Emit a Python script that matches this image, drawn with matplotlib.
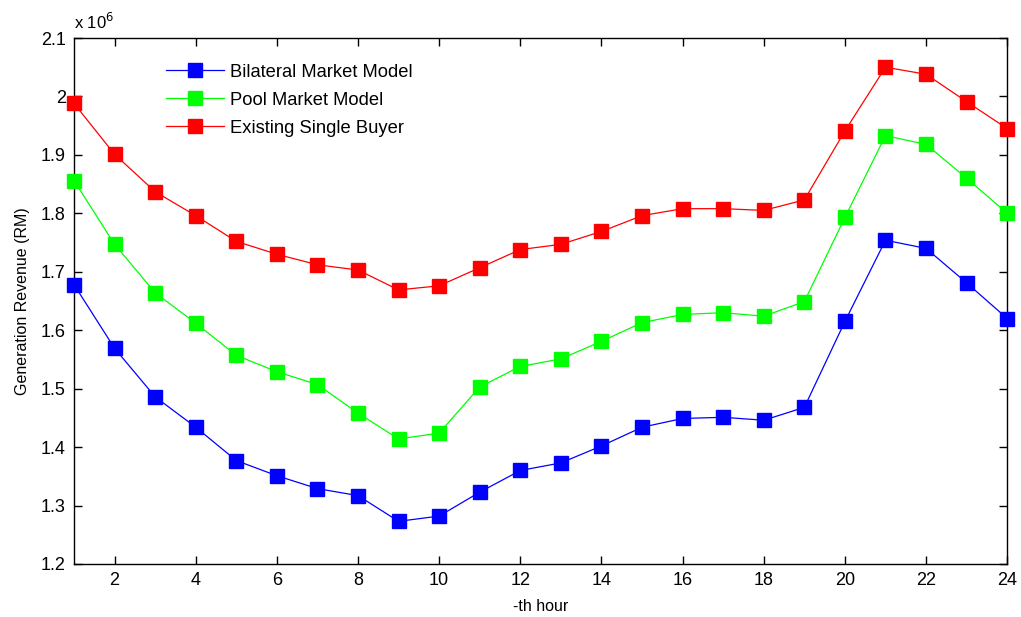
import matplotlib
matplotlib.use("Agg")
import matplotlib.pyplot as plt
from matplotlib.ticker import FuncFormatter

plt.rcParams['font.family'] = ['Liberation Sans', 'DejaVu Sans']

hours = list(range(1, 25))

# Generation revenue per hour, in millions of RM
bilateral = [1.678, 1.569, 1.486, 1.434, 1.377, 1.351, 1.329, 1.317, 1.273, 1.282,
             1.323, 1.360, 1.373, 1.402, 1.434, 1.449, 1.451, 1.446, 1.468, 1.615,
             1.754, 1.740, 1.681, 1.620]
pool = [1.856, 1.747, 1.664, 1.612, 1.557, 1.529, 1.507, 1.458, 1.414, 1.424,
        1.503, 1.538, 1.551, 1.581, 1.613, 1.627, 1.630, 1.624, 1.649, 1.793,
        1.933, 1.918, 1.860, 1.800]
single_buyer = [1.988, 1.901, 1.837, 1.796, 1.752, 1.730, 1.712, 1.703, 1.669, 1.676,
                1.707, 1.738, 1.747, 1.769, 1.796, 1.808, 1.808, 1.805, 1.823, 1.941,
                2.050, 2.038, 1.991, 1.945]

series_labels = ['Bilateral Market Model', 'Pool Market Model', 'Existing Single Buyer']
series_colors = ['#0000ff', '#00ff00', '#ff0000']

x_ticks = list(range(2, 25, 2))
y_ticks = [1.2, 1.3, 1.4, 1.5, 1.6, 1.7, 1.8, 1.9, 2.0, 2.1]

fig = plt.figure(figsize=(10.21, 6.17), dpi=100)
ax = fig.add_axes([0.0725, 0.0859, 0.914, 0.8525])

for vals, lab, col in zip([bilateral, pool, single_buyer], series_labels, series_colors):
    ax.plot(hours, vals, color=col, linewidth=0.9, marker='s', markersize=9.5,
            markerfacecolor=col, markeredgecolor=col, label=lab, clip_on=False, zorder=3)

ax.set_xlim(1, 24)
ax.set_ylim(1.2, 2.1)
ax.set_xticks(x_ticks)
ax.set_yticks(y_ticks)
ax.yaxis.set_major_formatter(FuncFormatter(lambda v, p: f"{v:g}"))
ax.tick_params(direction='in', top=True, right=True, length=6, width=1,
               labelsize=13, pad=6)
for s in ax.spines.values():
    s.set_linewidth(1)
    s.set_zorder(2)

ax.set_xlabel('-th hour', fontsize=11.5, labelpad=7)
ax.set_ylabel('Generation Revenue (RM)', fontsize=11.5, labelpad=8)
ax.text(0.0, 1.012, r'x 10$^6$', transform=ax.transAxes, fontsize=12, ha='left', va='bottom')

ax.legend(loc='upper left', bbox_to_anchor=(0.087, 0.972), frameon=False, fontsize=13.2,
          handlelength=3.15, handletextpad=0.35, labelspacing=0.6, borderaxespad=0.2)

fig.savefig('out.png', dpi=100)
